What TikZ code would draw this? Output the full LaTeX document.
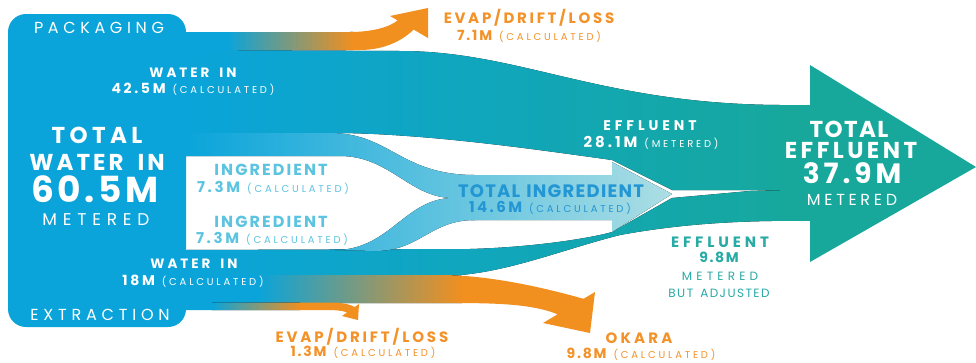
\documentclass[tikz,border=0pt]{standalone}
\usepackage{fontspec}
\setmainfont{Poppins}
\definecolor{blk}{RGB}{10,164,218}
\definecolor{teal}{RGB}{23,168,155}
\definecolor{org}{RGB}{241,143,31}
\definecolor{ingL}{RGB}{172,222,228}
\definecolor{ingtxt}{RGB}{92,196,224}
\definecolor{totingtxt}{RGB}{35,150,212}
\definecolor{efftxt}{RGB}{40,170,165}
\definecolor{orgtxt}{RGB}{243,146,40}
\newcommand\fs[1]{\fontsize{#1}{#1}\selectfont}
\newcommand\ls[1]{\addfontfeatures{LetterSpace=#1}}
\newcommand\bftxt[3]{{\fs{#1}\bfseries\ls{#2}#3}}
\newcommand\mdtxt[3]{{\fs{#1}\mdseries\ls{#2}#3}}
\newcommand\calcx[1]{{\fs{10}\mdseries\ls{28}#1}}
\newcommand\gp{\hspace{7pt}}
\newcommand\gradclip[5]{\begin{scope}\clip #1;\fill[left color=#2,right color=#3] (#4,0) rectangle (#5,362);\end{scope}}
\newcommand\tripclip[3]{\begin{scope}\clip #1;
  \fill[blk] (0,0) rectangle (#2+0.5,362);
  \fill[left color=blk,right color=org] (#2,0) rectangle (#3,362);
  \fill[org] (#3-0.5,0) rectangle (976,362);\end{scope}}
\tikzset{lbl/.style={inner sep=0pt, anchor=base}}
\begin{document}
\begin{tikzpicture}[x=1pt,y=-1pt]
\useasboundingbox (0,0) rectangle (976,362);
\fill[white] (0,0) rectangle (976,362);
% left block
\fill[blk, rounded corners=18pt] (8,14) -- (186,14) -- (186,327) -- (8,327) -- cycle;
% top evap strip
\tripclip{(185,32) -- (350,32) .. controls (372,32) and (390,27) .. (397.6,20.4) -- (390,16) -- (428,8) -- (428,38) -- (413.6,29.6) .. controls (403,40) and (385,50) .. (360,50) -- (185,50) -- cycle}{227}{353}
% main band
\gradclip{(185,50) -- (400,51) .. controls (520,51) and (600,104) .. (780,105) -- (812,105) -- (812,192) -- (750,190) -- (672,190) -- (612,160) .. controls (540,150) and (430,134) .. (340,133) -- (185,133) -- cycle}{blk}{teal}{185}{810}
% bottom band
\gradclip{(185,250) -- (470,249) .. controls (540,247) and (595,237) .. (612,232) -- (672,198) -- (750,191) -- (812,190) -- (812,221) .. controls (740,220) and (680,224) .. (620,235) .. controls (560,250) and (500,276) .. (440,276) -- (185,276) -- cycle}{blk}{teal}{185}{810}
% okara
\tripclip{(185,275) -- (440,275) .. controls (490,275) and (545,288) .. (583.6,298.8) -- (595,292) -- (590,333) -- (543,323) -- (557.6,314.3) .. controls (530,303) and (490,303) .. (440,303) -- (185,303) -- cycle}{258}{462}
% bottom evap
\tripclip{(185,302.5) -- (330,302.5) .. controls (343,302.5) and (350,304.5) .. (354.75,307) -- (359,304) -- (358,320) -- (342,316) -- (347.1,312.4) .. controls (342,310.5) and (336,310) .. (325,310) -- (185,310) -- cycle}{212}{300}
% big arrow
\fill[teal] (780,105) -- (810,105) -- (810,65) -- (976,167) -- (810,262) -- (810,220) -- (780,220) -- cycle;
% ingredient flows
\gradclip{(185,133) -- (330,133) .. controls (390,133) and (400,175) .. (475,175) -- (475,198) -- (453,198) .. controls (410,198) and (390,156) .. (340,156) -- (185,156) -- cycle}{blk}{ingL}{185}{672}
\gradclip{(335,250) .. controls (390,250) and (405,198) .. (453,198) -- (475,198) -- (475,220) .. controls (430,220) and (420,251) .. (375,251) -- cycle}{blk}{ingL}{185}{672}
\gradclip{(470,175) -- (612,175) -- (612,162) -- (672,194) -- (612,232) -- (612,220) -- (470,220) -- cycle}{blk}{ingL}{185}{672}
% texts
\node[lbl,white] (pack) at (99,33) {\fs{16}\ls{29}PACKAGING};
\node[lbl,white] (extr) at (100,320) {\fs{16}\ls{30}EXTRACTION};
\node[lbl,white] (wi1) at (193,77) {\bftxt{13.5}{22}{WATER}\hspace{10pt}\bftxt{13.5}{22}{IN}};
\node[lbl,white] (wi1v) at (193,93) {\bftxt{14}{19}{42.5M}\gp\calcx{(CALCULATED)}};
\node[lbl,white] (tw1) at (97,143) {\bftxt{23}{19}{TOTAL}};
\node[lbl,white] (tw2) at (97,170) {\bftxt{23}{13}{WATER}\hspace{14pt}\bftxt{23}{13}{IN}};
\node[lbl,white] (tw3) at (95,202) {\bftxt{36}{10}{60.5M}};
\node[lbl,white] (tw4) at (96,225) {\fs{17}\ls{34}METERED};
\node[lbl,ingtxt] (in1) at (271,175) {\bftxt{16}{13}{INGREDIENT}};
\node[lbl,ingtxt] (in1v) at (273,192) {\bftxt{15}{18}{7.3M}\gp\calcx{(CALCULATED)}};
\node[lbl,ingtxt] (in2) at (271,227) {\bftxt{16}{13}{INGREDIENT}};
\node[lbl,ingtxt] (in2v) at (272,243) {\bftxt{15}{18}{7.3M}\gp\calcx{(CALCULATED)}};
\node[lbl,white] (wi2) at (194,268) {\bftxt{13.5}{22}{WATER}\hspace{10pt}\bftxt{13.5}{22}{IN}};
\node[lbl,white] (wi2v) at (193,285) {\bftxt{14}{19}{18M}\gp\calcx{(CALCULATED)}};
\node[lbl,orgtxt] (ev1) at (529,23) {\bftxt{15}{18}{EVAP/DRIFT/LOSS}};
\node[lbl,orgtxt] (ev1v) at (529,40) {\bftxt{14}{13}{7.1M}\gp\calcx{(CALCULATED)}};
\node[lbl,white] (ef1) at (650,130) {\bftxt{14}{28}{EFFLUENT}};
\node[lbl,white] (ef1v) at (651,147) {\bftxt{15}{20}{28.1M}\gp\calcx{(METERED)}};
\node[lbl,totingtxt] (ti) at (551,197) {\bftxt{18}{7}{TOTAL}\hspace{6pt}\bftxt{18}{7}{INGREDIENT}};
\node[lbl,totingtxt] (tiv) at (550,212) {\bftxt{15}{16}{14.6M}\gp\calcx{(CALCULATED)}};
\node[lbl,white] (te1) at (849,137) {\bftxt{23}{6}{TOTAL}};
\node[lbl,white] (te2) at (851,158) {\bftxt{23}{15}{EFFLUENT}};
\node[lbl,white] (te3) at (852,183) {\bftxt{28}{14}{37.9M}};
\node[lbl,white] (te4) at (852,205) {\fs{16}\ls{23}METERED};
\node[lbl,efftxt] (ef2) at (720,247) {\bftxt{15}{26}{EFFLUENT}};
\node[lbl,efftxt] (ef2v) at (719,262) {\bftxt{14}{12}{9.8M}};
\node[lbl,efftxt] (ef2m) at (720,280) {\fs{12}\ls{35}METERED};
\node[lbl,efftxt] (ef2b) at (719,297) {\mdtxt{12}{12}{BUT}\hspace{7pt}\mdtxt{12}{12}{ADJUSTED}};
\node[lbl,orgtxt] (ev2) at (362,342) {\bftxt{15}{19}{EVAP/DRIFT/LOSS}};
\node[lbl,orgtxt] (ev2v) at (363,356) {\bftxt{14}{13}{1.3M}\gp\calcx{(CALCULATED)}};
\node[lbl,orgtxt] (ok) at (639,343) {\bftxt{15}{21}{OKARA}};
\node[lbl,orgtxt] (okv) at (641,358) {\bftxt{14}{13}{9.8M}\gp\calcx{(CALCULATED)}};
\end{tikzpicture}
\end{document}
